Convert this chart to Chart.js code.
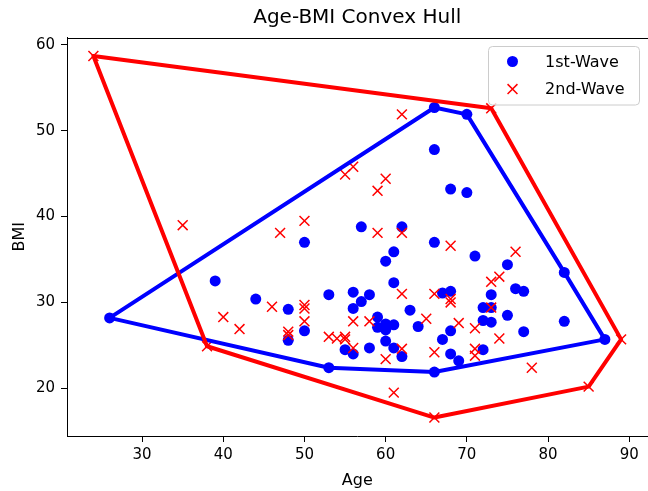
<!DOCTYPE html>
<html><head><meta charset="utf-8">
<script src="https://cdn.jsdelivr.net/npm/chart.js@4/dist/chart.umd.min.js"></script>
<style>
html,body{margin:0;padding:0;overflow:hidden;background:#fff;width:648px;height:491px}
#wrap{width:656px;height:491px}
</style>
</head><body>
<div id="wrap"><canvas id="c" width="656" height="491"></canvas></div>
<script>
const chartTitle = 'Age-BMI Convex Hull';
const xTitle = 'Age';
const yTitle = 'BMI';
const seriesLabels = ['1st-Wave', '2nd-Wave'];
const xTicks = [30, 40, 50, 60, 70, 80, 90];
const yTicks = [20, 30, 40, 50, 60];

const wave1Age = [26,39,44,48,48,50,50,53,53,55,56,56,56,57,57,58,58,59,59,60,60,60,60,61,61,61,61,62,62,63,64,66,66,66,66,67,67,68,68,68,68,69,70,70,71,72,72,72,73,73,73,75,75,76,77,77,82,82,87];
const wave1BMI = [28.2,32.5,30.4,29.2,25.6,37.0,26.7,30.9,22.4,24.5,31.2,29.3,24.0,38.8,30.1,30.9,24.7,28.3,27.1,34.8,27.5,26.8,25.5,35.9,32.3,27.4,24.7,38.8,23.7,29.1,27.2,52.7,47.8,37.0,21.9,31.1,25.7,43.2,31.3,26.7,24.0,23.2,51.9,42.8,35.4,29.4,27.9,24.5,30.9,29.4,27.7,34.4,28.5,31.6,31.3,26.6,33.5,27.8,25.7];

const wave2Age = [24,35,38,40,42,46,47,48,48,50,50,50,50,53,54,55,55,55,56,56,56,58,59,59,60,60,61,62,62,62,62,65,66,66,66,68,68,68,69,71,71,71,73,73,73,74,74,76,78,85,89];
const wave2BMI = [58.7,39.0,24.9,28.3,26.9,29.5,38.1,26.6,26.2,39.5,29.7,29.3,27.8,26.0,25.8,26.0,25.7,44.9,45.8,27.8,24.7,27.8,43.0,38.1,44.4,23.4,19.5,51.9,38.1,31.0,24.6,28.1,31.0,24.2,16.6,36.6,30.4,30.0,27.6,27.0,24.6,23.8,52.6,32.4,29.4,33.0,25.8,35.9,22.4,20.2,25.7];

function toPts(xs, ys) { return xs.map((x, i) => ({x: x, y: ys[i]})); }
function convexHull(pts) {
  const p = pts.slice().sort((a, b) => a.x - b.x || a.y - b.y);
  const cross = (o, a, b) => (a.x - o.x) * (b.y - o.y) - (a.y - o.y) * (b.x - o.x);
  const lower = [];
  for (const q of p) { while (lower.length >= 2 && cross(lower[lower.length-2], lower[lower.length-1], q) <= 0) lower.pop(); lower.push(q); }
  const upper = [];
  for (let i = p.length - 1; i >= 0; i--) { const q = p[i]; while (upper.length >= 2 && cross(upper[upper.length-2], upper[upper.length-1], q) <= 0) upper.pop(); upper.push(q); }
  upper.pop(); lower.pop();
  const h = lower.concat(upper);
  h.push(h[0]);
  return h;
}

const pts1 = toPts(wave1Age, wave1BMI);
const pts2 = toPts(wave2Age, wave2BMI);

Chart.defaults.font.family = "'DejaVu Sans', sans-serif";
Chart.defaults.color = '#000';

const framePlugin = {
  id: 'frame',
  afterDraw(chart) {
    const a = chart.chartArea, ctx = chart.ctx;
    ctx.save();
    ctx.strokeStyle = '#000'; ctx.lineWidth = 1;
    ctx.beginPath();
    ctx.moveTo(Math.round(a.left) + 0.5, Math.round(a.top) + 0.5);
    ctx.lineTo(Math.round(a.right) + 0.5, Math.round(a.top) + 0.5);
    ctx.lineTo(Math.round(a.right) + 0.5, Math.round(a.bottom) + 0.5);
    ctx.stroke();
    ctx.restore();
  }
};

const legendPlugin = {
  id: 'innerLegend',
  afterDraw(chart) {
    const a = chart.chartArea, ctx = chart.ctx;
    const items = chart.data.datasets.filter(d => !d.isHull);
    const bx = a.right - 159, by = a.top + 9, bw = 151, bh = 58.5, r = 4;
    ctx.save();
    ctx.beginPath();
    ctx.moveTo(bx + r, by);
    ctx.lineTo(bx + bw - r, by); ctx.quadraticCurveTo(bx + bw, by, bx + bw, by + r);
    ctx.lineTo(bx + bw, by + bh - r); ctx.quadraticCurveTo(bx + bw, by + bh, bx + bw - r, by + bh);
    ctx.lineTo(bx + r, by + bh); ctx.quadraticCurveTo(bx, by + bh, bx, by + bh - r);
    ctx.lineTo(bx, by + r); ctx.quadraticCurveTo(bx, by, bx + r, by);
    ctx.closePath();
    ctx.fillStyle = 'rgba(255,255,255,0.8)'; ctx.fill();
    ctx.strokeStyle = '#cccccc'; ctx.lineWidth = 1; ctx.stroke();
    items.forEach((d, i) => {
      const cy = by + 15 + i * 27.6, cx = bx + 24;
      ctx.fillStyle = d.backgroundColor; ctx.strokeStyle = d.borderColor; ctx.lineWidth = d.borderWidth;
      Chart.helpers.drawPoint(ctx, {pointStyle: d.pointStyle, radius: d.pointRadius, borderWidth: d.borderWidth, rotation: 0}, cx, cy);
      ctx.fillStyle = '#000';
      ctx.font = "16px 'DejaVu Sans', sans-serif";
      ctx.textAlign = 'left'; ctx.textBaseline = 'middle';
      ctx.fillText(d.label, bx + 56.6, cy + 1);
    });
    ctx.restore();
  }
};

const axisCommon = {
  grid: {display: true, drawOnChartArea: false, drawTicks: true, tickLength: 6, tickColor: '#000', tickWidth: 1},
  border: {display: true, color: '#000', width: 1}
};

new Chart(document.getElementById('c'), {
  type: 'scatter',
  data: {
    datasets: [
      {label: seriesLabels[0], isHull: true, data: convexHull(pts1), showLine: true, borderColor: '#0000ff', backgroundColor: '#0000ff', borderWidth: 4, pointRadius: 0, fill: false, order: 1, borderJoinStyle: 'round', borderCapStyle: 'round'},
      {label: seriesLabels[1], isHull: true, data: convexHull(pts2), showLine: true, borderColor: '#ff0000', backgroundColor: '#ff0000', borderWidth: 4, pointRadius: 0, fill: false, order: 0, borderJoinStyle: 'round', borderCapStyle: 'round'},
      {label: seriesLabels[0], data: pts1, pointStyle: 'circle', pointRadius: 5.5, backgroundColor: '#0000ff', borderColor: '#0000ff', borderWidth: 0, order: 3},
      {label: seriesLabels[1], data: pts2, pointStyle: 'crossRot', pointRadius: 7, backgroundColor: '#ff0000', borderColor: '#ff0000', borderWidth: 1.5, order: 2}
    ]
  },
  options: {
    responsive: false, animation: false, devicePixelRatio: 1,
    layout: {padding: {left: 0, right: 5, top: 0, bottom: 0}},
    plugins: {
      legend: {display: false},
      tooltip: {enabled: false},
      title: {display: true, text: chartTitle, fullSize: false, color: '#000', font: {size: 20, weight: 'normal'}, padding: {top: 6, bottom: 7.5}}
    },
    scales: {
      x: Object.assign({}, axisCommon, {
        type: 'linear', min: 20.75, max: 92.25,
        afterBuildTicks: s => { s.ticks = xTicks.map(v => ({value: v})); },
        afterFit: s => { s.height = 55; },
        ticks: {font: {size: 15}, color: '#000', padding: 4, maxRotation: 0},
        title: {display: true, text: xTitle, color: '#000', font: {size: 16}, padding: {top: 0, bottom: 1}}
      }),
      y: Object.assign({}, axisCommon, {
        type: 'linear', min: 14.45, max: 60.85,
        afterBuildTicks: s => { s.ticks = yTicks.map(v => ({value: v})); },
        afterFit: s => { s.width = 67; },
        ticks: {font: {size: 15}, color: '#000', padding: 6},
        title: {display: true, text: yTitle, color: '#000', font: {size: 16}, padding: {top: 10, bottom: 0}}
      })
    }
  },
  plugins: [framePlugin, legendPlugin]
});
</script>
</body></html>
